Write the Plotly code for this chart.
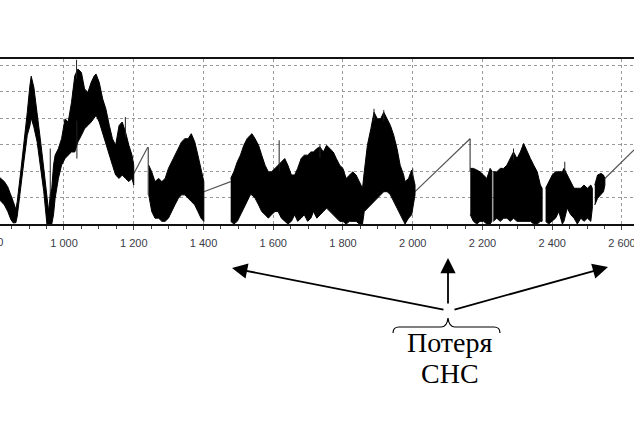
import plotly.graph_objects as go

# ---------------- data ----------------
tick_vals = [1000, 1200, 1400, 1600, 1800, 2000, 2200, 2400, 2600]
tick_text = ["1 000", "1 200", "1 400", "1 600", "1 800", "2 000", "2 200", "2 400", "2 600"]
edge_tick_val = 800
edge_tick_text = "800"

x_range = [816.5, 2634.5]
y_range = [0, 6.23]

# dense signal bands: upper / lower envelope per recorded segment
seg1_x = [816, 829, 838.5, 848, 854.5, 862, 866, 876, 885, 894.6, 902, 906, 913.6, 923, 932,
          942, 951, 956, 960.6, 965, 970, 974.6, 984, 993, 1003, 1012, 1021.6, 1031, 1040, 1050,
          1059, 1068.5, 1078, 1087, 1092, 1101, 1111, 1120, 1130, 1139, 1148, 1158, 1167, 1176.5,
          1186, 1195, 1200]
seg1_hi = [1.75, 1.6, 1.41, 1.1, 0.85, 0.55, 0.85, 1.98, 2.98, 4.2, 5.2, 5.58, 5.16, 4.22, 3.22,
           2.1, 0.97, 0.47, 1.1, 1.35, 2.22, 2.6, 2.85, 3.22, 3.97, 3.85, 4.6, 5.6, 5.85, 5.72,
           5.1, 4.97, 5.35, 5.6, 5.66, 5.35, 4.72, 4.35, 3.72, 3.22, 2.97, 3.72, 3.85, 3.47,
           2.97, 2.6, 2.22]
seg1_lo = [0.9, 0.72, 0.48, 0.16, 0.04, 0.05, 0.3, 1.35, 2.35, 3.35, 3.7, 4.0, 3.66, 3.1, 2.22,
           1.22, 0, 0, 0, 0, 0.35, 0.97, 1.72, 2.22, 2.47, 2.6, 2.72, 2.72, 3.1, 3.35,
           3.6, 3.72, 3.85, 4.0, 4.1, 3.85, 3.47, 3.1, 2.6, 2.22, 1.85, 1.72, 1.85, 1.72,
           1.6, 1.72, 1.47]

seg2_x = [1243, 1251.6, 1261, 1271.4, 1280.7, 1290, 1299.5, 1309, 1318, 1328, 1337, 1346.5,
          1356, 1365, 1375, 1384, 1393, 1401]
seg2_hi = [2.22, 1.97, 1.6, 1.72, 1.6, 1.72, 2.1, 2.35, 2.6, 2.85, 3.1, 3.22,
           3.22, 3.41, 3.1, 2.6, 2.1, 1.6]
seg2_lo = [1.1, 0.47, 0.22, 0.22, 0.1, 0.1, 0.22, 0.47, 0.72, 0.97, 1.1, 1.1,
           0.97, 0.85, 0.72, 0.47, 0.22, 0.1]

seg3_x = [1478, 1487, 1497, 1506, 1515.5, 1525, 1534, 1539, 1548, 1558, 1567, 1576.5, 1586, 1595,
          1605, 1614, 1623.5, 1633, 1642, 1652, 1661.5, 1670, 1680, 1689, 1698.6, 1708, 1715.5,
          1725, 1734, 1743.7, 1753, 1762.4, 1772, 1781, 1790.6, 1800, 1809, 1819, 1828, 1837.6,
          1847, 1856, 1861, 1870, 1880, 1889, 1898.6, 1908, 1917, 1927, 1936, 1945.5, 1955, 1964,
          1974, 1978, 1988, 1997, 2006.6]
seg3_hi = [1.72, 1.97, 2.35, 2.6, 2.97, 3.22, 3.35, 3.41, 3.22, 2.97, 2.6, 2.22, 1.97, 1.97,
           2.1, 2.22, 2.35, 2.47, 2.22, 1.85, 1.85, 2.1, 2.47, 2.6, 2.6, 2.72, 2.72,
           2.85, 2.91, 2.72, 2.97, 2.85, 2.72, 2.47, 2.22, 2.1, 1.72, 1.85, 1.97, 1.85,
           1.6, 1.35, 1.97, 2.97, 3.6, 4.22, 3.97, 3.97, 4.22, 3.97, 3.72, 3.35, 2.85, 2.22,
           1.85, 1.6, 1.72, 2.04, 1.47]
seg3_lo = [0.1, 0, 0.1, 0.35, 0.6, 0.85, 1.1, 1.1, 0.97, 0.72, 0.47, 0.35, 0.22, 0.35,
           0.47, 0.47, 0.22, 0.1, 0, 0.1, 0.35, 0.1, 0.22, 0.35, 0.1, 0.22, 0.47,
           0.22, 0.35, 0.47, 0.6, 0.47, 0.35, 0.22, 0.1, 0.1, 0, 0.1, 0.1, 0.1,
           0, 0, 0.47, 0.6, 0.72, 0.85, 0.97, 1.1, 1.22, 1.22, 1.1, 0.85, 0.6, 0.35,
           0.1, 0, 0.22, 0.35, 1.1]

seg4_x = [2165, 2174, 2183.7, 2193, 2203, 2212.5, 2222, 2227]
seg4_hi = [2.1, 2.1, 2.04, 1.97, 1.85, 1.72, 2.1, 2.0]
seg4_lo = [0.35, 0.1, 0, 0.1, 0.1, 0, 0, 0.1]

seg5_x = [2231, 2241, 2251, 2260.6, 2270, 2280, 2289, 2299, 2308.6, 2318, 2328, 2337.5,
          2347, 2357, 2366, 2371]
seg5_hi = [1.97, 1.97, 2.1, 2.1, 2.22, 2.47, 2.72, 2.47, 2.72, 3.04, 2.72, 2.47,
           2.22, 1.97, 1.47, 1.35]
seg5_lo = [0.1, 0.22, 0.1, 0.22, 0.22, 0.1, 0.22, 0.1, 0.1, 0.1, 0.1, 0.1,
           0, 0, 0.1, 0.1]

seg6_x = [2381, 2390, 2400, 2409.6, 2419, 2429, 2433.6, 2443, 2453, 2462.5, 2472, 2482,
          2491, 2501, 2510.6, 2515]
seg6_hi = [1.35, 1.6, 1.85, 1.97, 1.97, 1.97, 2.1, 1.85, 1.6, 1.35, 1.35, 1.35,
           1.47, 1.35, 1.47, 1.35]
seg6_lo = [0.1, 0, 0.1, 0.22, 0.47, 0, 0.1, 0.6, 0.35, 0.22, 0, 0.22,
           0.1, 0.22, 0.1, 0.6]

seg7_x = [2522, 2530, 2540, 2547, 2551]
seg7_hi = [1.47, 1.85, 1.91, 1.85, 1.72]
seg7_lo = [0.72, 0.97, 1.1, 1.22, 1.47]

# straight lines drawn across the gaps where the signal was lost
gap_x = [1200, 1240, None, 1401, 1478, None, 2006.6, 2164.5, None, 2551, 2634.5]
gap_y = [1.9, 2.9, None, 1.22, 1.6, None, 1.22, 3.22, None, 1.72, 2.8]

# isolated single-sample spikes
spike_x = [960.6, 1036, 1037, 1176, 1241.5, 1617, 1734, 1889, 1917, 2000, 2164.5, 2289, 2436]
spike_lo = [1.0, 5.5, 2.47, 3.3, 1.1, 2.0, 2.5, 3.9, 3.9, 1.8, 2.0, 2.4, 1.9]
spike_hi = [2.85, 6.2, 3.9, 4.04, 2.9, 3.16, 3.0, 4.35, 4.3, 2.1, 3.22, 2.85, 2.35]

annot_line1 = "Потеря"
annot_line2 = "СНС"

# ---------------- figure ----------------
W, H = 634, 423
M_L, M_R, M_T, M_B = 0, 0, 59, 199
PLOT_H = H - M_T - M_B


def paper(px, py):
    """window pixel -> paper coordinates"""
    return (px - M_L) / (W - M_L - M_R), (H - M_B - py) / PLOT_H


fig = go.Figure()

segments = [(seg1_x, seg1_hi, seg1_lo), (seg2_x, seg2_hi, seg2_lo), (seg3_x, seg3_hi, seg3_lo),
            (seg4_x, seg4_hi, seg4_lo), (seg5_x, seg5_hi, seg5_lo), (seg6_x, seg6_hi, seg6_lo),
            (seg7_x, seg7_hi, seg7_lo)]

fig.add_trace(go.Scatter(x=gap_x, y=gap_y, mode="lines",
                         line=dict(color="#555555", width=1.2), hoverinfo="skip"))

for sx, shi, slo in segments:
    fig.add_trace(go.Scatter(x=list(sx) + list(sx)[::-1], y=list(shi) + list(slo)[::-1],
                             mode="lines", fill="toself", fillcolor="black",
                             line=dict(color="black", width=1), hoverinfo="skip"))

sp_x, sp_y = [], []
for xv, lo, hi in zip(spike_x, spike_lo, spike_hi):
    sp_x += [xv, xv, None]
    sp_y += [lo, hi, None]
fig.add_trace(go.Scatter(x=sp_x, y=sp_y, mode="lines",
                         line=dict(color="#222222", width=1), hoverinfo="skip"))

tick_font = dict(family="Liberation Sans, Arial, sans-serif", size=11, color="#3a3a48")

fig.update_layout(
    template="none",
    width=W, height=H,
    margin=dict(l=M_L, r=M_R, t=M_T, b=M_B, pad=0),
    plot_bgcolor="white", paper_bgcolor="white",
    showlegend=False,
    xaxis=dict(range=x_range, tickvals=tick_vals, ticktext=tick_text, tickfont=tick_font,
               showgrid=True, gridcolor="#9a9a9a", griddash="dot", gridwidth=1,
               showline=True, mirror=True, linecolor="#111111", linewidth=2,
               ticks="outside", ticklen=4, tickcolor="#444444", zeroline=False,
               automargin=False, ticklabeloverflow="allow", ticklabelstandoff=4,
               minor=dict(dtick=50, tick0=0, ticks="outside", ticklen=3, tickcolor="#444444",
                          showgrid=False)),
    yaxis=dict(range=y_range, dtick=1, tick0=0, showticklabels=False,
               showgrid=True, gridcolor="#9a9a9a", griddash="dot", gridwidth=1,
               showline=False, zeroline=False, ticks="", automargin=False),
)

# partially visible tick label at the left edge
ex = (edge_tick_val - x_range[0]) / (x_range[1] - x_range[0])
fig.add_annotation(x=ex, y=0, xref="paper", yref="paper", text=edge_tick_text,
                   showarrow=False, xanchor="center", yanchor="top", yshift=-10,
                   font=tick_font)

# arrows
arrow_style = dict(showarrow=True, arrowhead=2, arrowsize=1.7, arrowwidth=1.8,
                   arrowcolor="black", text="", xref="paper", yref="paper",
                   axref="pixel", ayref="pixel", standoff=0, startstandoff=0)
for head, tail in [((232, 268), (445, 310)), ((448, 258), (448, 305)), ((608, 267), (453, 310))]:
    hx, hy = paper(*head)
    fig.add_annotation(x=hx, y=hy, ax=tail[0] - head[0], ay=tail[1] - head[1], **arrow_style)

# curly brace
pts = [(393, 333), (393, 327), (399, 327), (441, 327), (447, 327), (448, 318),
       (449, 327), (455, 327), (494, 327), (500, 327), (500, 333)]
pp = [paper(*p) for p in pts]
path = ("M {0[0]},{0[1]} Q {1[0]},{1[1]} {2[0]},{2[1]} L {3[0]},{3[1]} "
        "Q {4[0]},{4[1]} {5[0]},{5[1]} Q {6[0]},{6[1]} {7[0]},{7[1]} L {8[0]},{8[1]} "
        "Q {9[0]},{9[1]} {10[0]},{10[1]}").format(*pp)
fig.add_shape(type="path", path=path, xref="paper", yref="paper",
              line=dict(color="black", width=1.2))

serif = dict(family="Liberation Serif, Times New Roman, serif", size=28, color="black")
for txt, (tx, ty) in [(annot_line1, (450, 342)), (annot_line2, (450, 373))]:
    px_, py_ = paper(tx, ty)
    fig.add_annotation(x=px_, y=py_, xref="paper", yref="paper", text=txt, showarrow=False,
                       xanchor="center", yanchor="middle", font=serif)

fig.write_html("out.html",
               config={"displayModeBar": False, "staticPlot": True},
               post_script="document.body.style.margin='0';document.body.style.overflow='hidden';")
